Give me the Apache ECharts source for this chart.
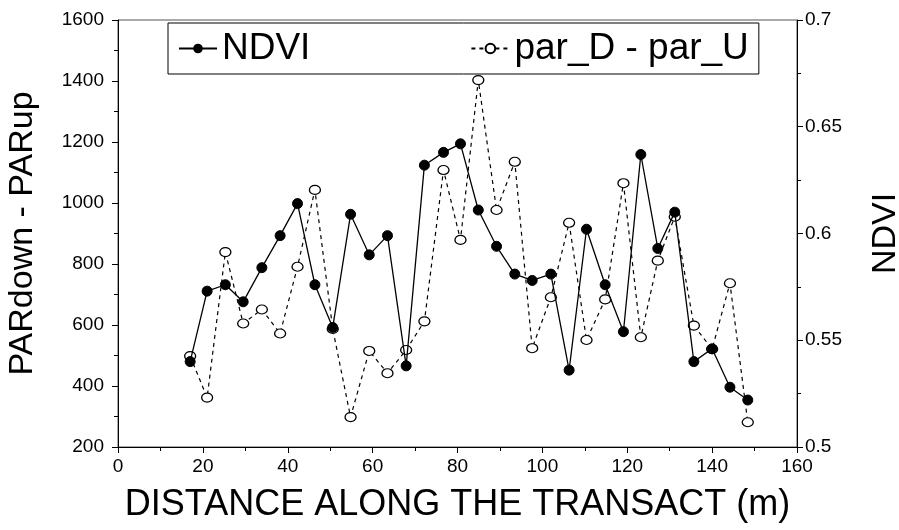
<!DOCTYPE html>
<html>
<head>
<meta charset="utf-8">
<script src="https://cdn.jsdelivr.net/npm/echarts@6/dist/echarts.min.js"></script>
<style>
  html, body { margin: 0; padding: 0; background: #fff; }
  #chart { width: 899px; height: 530px; }
</style>
</head>
<body>
<div id="chart"></div>
<script>
// distance along the transact (m)
const distance = [17.0, 21.0, 25.3, 29.5, 33.9, 38.2, 42.3, 46.4, 50.6, 54.8, 59.2, 63.5, 67.9, 72.2, 76.7, 80.7,
  84.9, 89.2, 93.5, 97.6, 102.0, 106.3, 110.4, 114.8, 119.1, 123.2, 127.2, 131.2, 135.7, 140.0, 144.2, 148.4]
// NDVI (right axis)
const ndvi = [0.540, 0.573, 0.576, 0.568, 0.584, 0.599, 0.614, 0.576, 0.556, 0.609, 0.590, 0.599, 0.538, 0.632, 0.638, 0.642,
  0.611, 0.594, 0.581, 0.578, 0.581, 0.536, 0.602, 0.576, 0.554, 0.637, 0.593, 0.610, 0.540, 0.546, 0.528, 0.522]
// par_D - par_U (left axis)
const parDiff = [498, 362, 839, 605, 651, 572, 791, 1043, 587, 298, 515, 442, 518, 612, 1108, 879,
  1403, 977, 1135, 524, 691, 935, 551, 684, 1065, 560, 811, 955, 598, 521, 737, 281]

const FONT = '"Liberation Sans", Arial, sans-serif'

const chart = echarts.init(document.getElementById('chart'))

const option = {
  backgroundColor: '#fff',
  animation: false,
  textStyle: { fontFamily: FONT, color: '#000' },
  grid: {
    left: 118,
    right: 102,
    top: 20,
    bottom: 83,
    outerBoundsMode: 'none',
    show: true,
    borderColor: '#555',
    borderWidth: 1,
  },
  legend: {
    left: 168,
    top: 23,
    padding: [7, 10],
    itemGap: 160,
    itemWidth: 38,
    itemHeight: 12,
    borderColor: '#000',
    borderWidth: 1,
    backgroundColor: '#fff',
    textStyle: { fontSize: 37, fontFamily: FONT, color: '#000' },
    data: ['NDVI', 'par_D - par_U'],
  },
  xAxis: {
    type: 'value',
    min: 0,
    max: 160,
    interval: 20,
    name: 'DISTANCE ALONG THE TRANSACT (m)',
    nameLocation: 'middle',
    nameGap: 40,
    nameTextStyle: { fontSize: 36, fontFamily: FONT, color: '#000' },
    axisLine: { lineStyle: { color: '#000', width: 1 } },
    axisTick: { length: 6, lineStyle: { color: '#000' } },
    minorTick: { show: true, splitNumber: 2, length: 4, lineStyle: { color: '#000' } },
    axisLabel: { fontSize: 19, color: '#000', margin: 10 },
    splitLine: { show: false },
  },
  yAxis: [
    {
      type: 'value',
      min: 200,
      max: 1600,
      interval: 200,
      name: 'PARdown - PARup',
      nameLocation: 'middle',
      nameRotate: 90,
      nameGap: 78,
      nameTextStyle: { fontSize: 34, fontFamily: FONT, color: '#000' },
      axisLine: { show: true, lineStyle: { color: '#000' } },
      axisTick: { length: 6, lineStyle: { color: '#000' } },
      minorTick: { show: true, splitNumber: 2, length: 4, lineStyle: { color: '#000' } },
      axisLabel: { fontSize: 19, color: '#000', margin: 14, formatter: v => String(v) },
      splitLine: { show: false },
    },
    {
      type: 'value',
      position: 'right',
      min: 0.5,
      max: 0.7,
      interval: 0.05,
      name: 'NDVI',
      nameLocation: 'middle',
      nameRotate: 90,
      nameGap: 72,
      nameTextStyle: { fontSize: 34, fontFamily: FONT, color: '#000' },
      axisLine: { show: true, lineStyle: { color: '#000' } },
      axisTick: { length: 6, lineStyle: { color: '#000' } },
      minorTick: { show: true, splitNumber: 2, length: 4, lineStyle: { color: '#000' } },
      axisLabel: { fontSize: 19, color: '#000', margin: 8, formatter: v => String(+v.toFixed(2)) },
      splitLine: { show: false },
    },
  ],
  series: [
    {
      name: 'par_D - par_U',
      type: 'line',
      yAxisIndex: 0,
      data: distance.map((d, i) => [d, parDiff[i]]),
      symbol: 'circle',
      symbolSize: [11, 9],
      itemStyle: { color: '#fff', borderColor: '#000', borderWidth: 1.2 },
      lineStyle: { color: '#000', width: 1.2, type: [4, 4] },
      z: 2,
    },
    {
      name: 'NDVI',
      type: 'line',
      yAxisIndex: 1,
      data: distance.map((d, i) => [d, ndvi[i]]),
      symbol: 'circle',
      symbolSize: 10,
      itemStyle: { color: '#000', borderColor: '#000' },
      lineStyle: { color: '#000', width: 1.3 },
      z: 3,
    },
  ],
}

chart.setOption(option)
</script>
</body>
</html>
